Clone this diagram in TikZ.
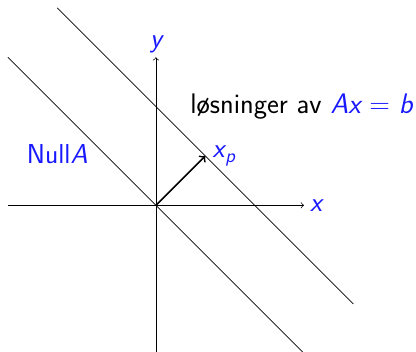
\documentclass[tikz,border=0pt]{standalone}
\definecolor{lblue}{RGB}{25,25,255}
\newcommand{\bigfont}{\fontsize{15.8}{19}\selectfont\sffamily}
\tikzset{
  lab/.style={text=lblue,font=\bigfont},
  axis/.style={->,line width=0.4pt},
  solline/.style={line width=0.4pt}
}
\begin{document}
\begin{tikzpicture}[x=1cm,y=1cm]
\useasboundingbox (-3.16,-2.96) rectangle (5.27,4.16);
\coordinate (O) at (0,0);
\coordinate (xl) at (-3,0);
\coordinate (xr) at (3,0);
\coordinate (yb) at (0,-3);
\coordinate (yt) at (0,3);
\coordinate (n1) at (-3,3);
\coordinate (n2) at (3,-3);
\coordinate (s1) at (-2,4);
\coordinate (s2) at (4,-2);
\coordinate (xp) at (1,1);
\draw[axis] (xl) -- (xr) node[lab,right] (xlab) {\itshape x};
\draw[axis] (yb) -- (yt) node[lab,above,inner sep=2pt] (ylab) {\itshape y};
\draw[solline] (n1) -- (n2);
\draw[solline] (s1) -- (s2);
\draw[->,line width=1pt] (O) -- (xp);
\node[lab,right,inner sep=4pt] (xplab) at (xp) {\itshape x\kern0.5pt\raisebox{-0.35ex}{\fontsize{11}{13}\selectfont\itshape p}};
\node[lab] (null) at (-2.0,1.03) {Null\itshape A};
\node[font=\fontsize{16.3}{19}\selectfont\sffamily,anchor=west,inner sep=0pt] (sol) at (0.69,2.0) {løsninger av \textcolor{lblue}{\itshape Ax \upshape= \itshape b}};
\end{tikzpicture}
\end{document}
